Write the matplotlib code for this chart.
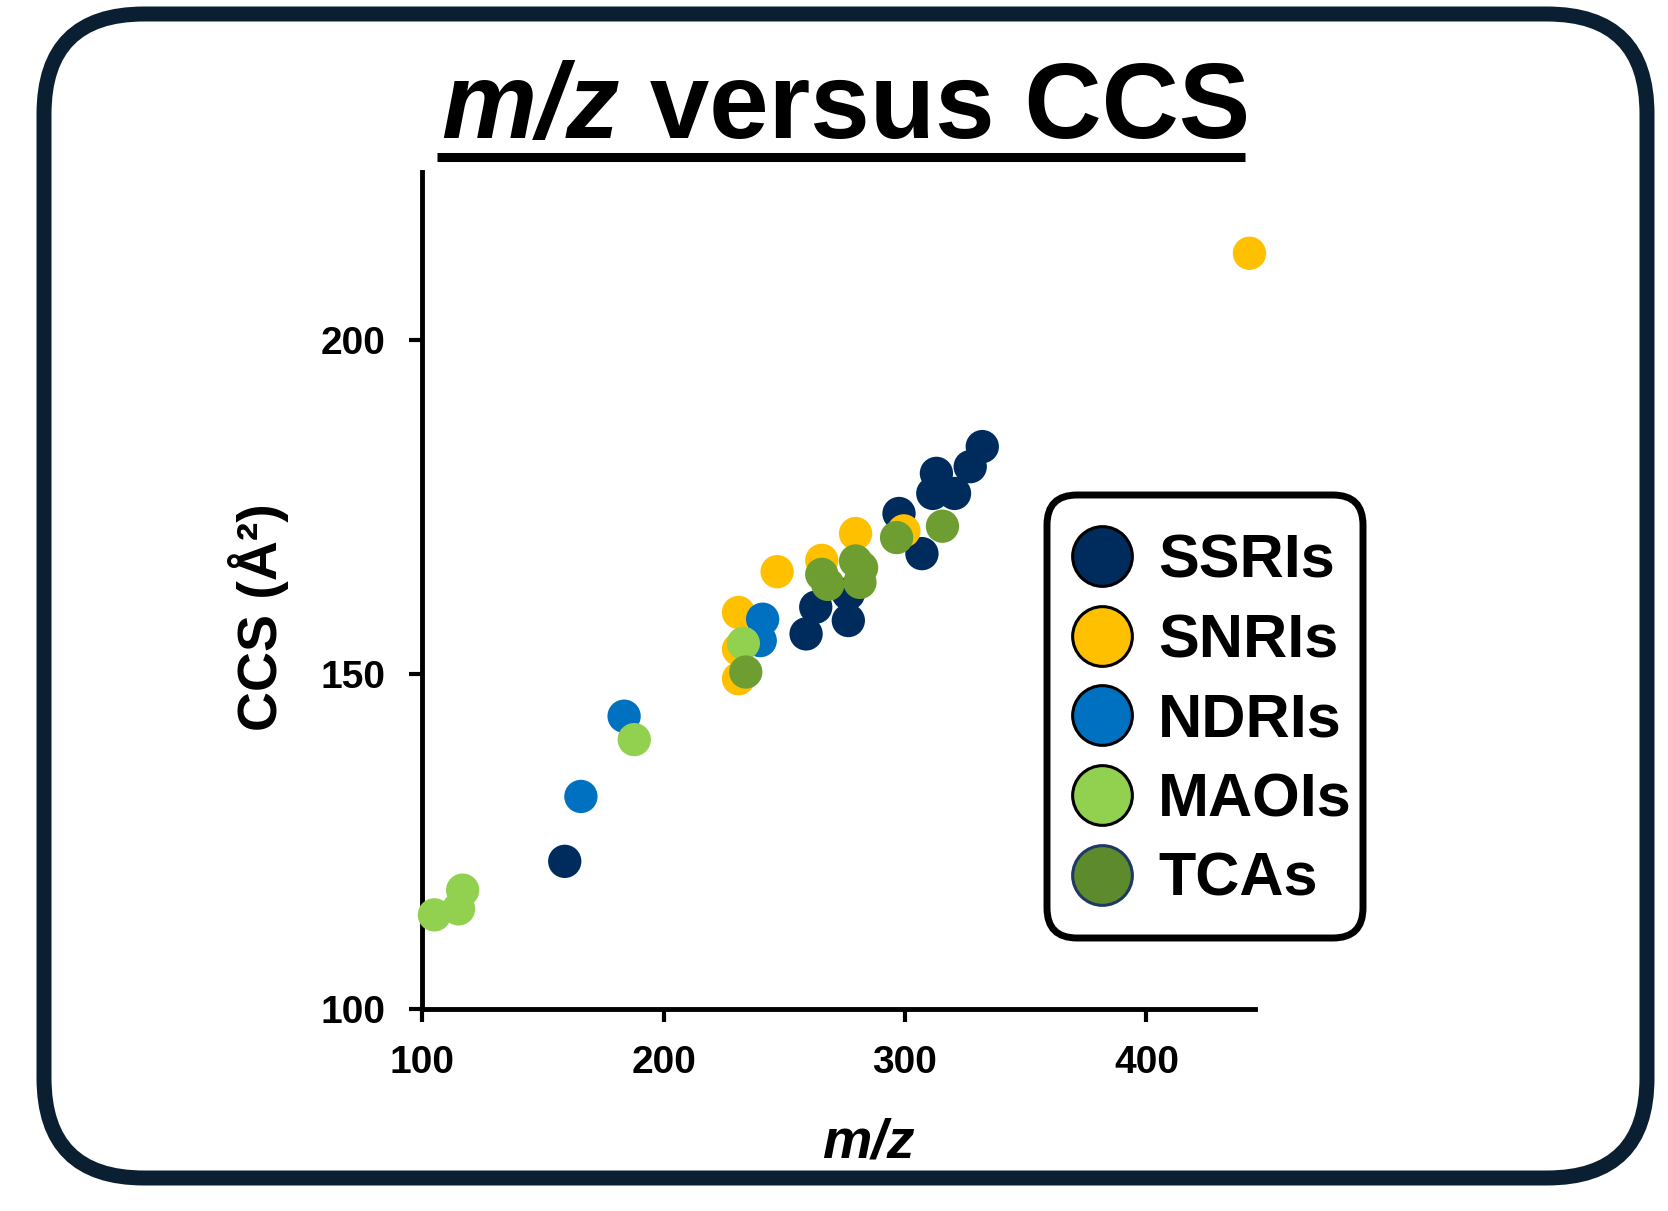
import matplotlib.pyplot as plt
from matplotlib.patches import FancyBboxPatch
from matplotlib.lines import Line2D

plt.rcParams['font.family'] = ['Liberation Sans', 'DejaVu Sans']
plt.rcParams['font.weight'] = 'bold'

# m/z and CCS values per drug class
ssri_mz = [159, 259, 263, 276.5, 276.5, 297.5, 307, 311.5, 313, 320.5, 327, 332]
ssri_ccs = [122, 156, 160, 158, 162, 174, 168, 177, 180, 177, 181, 184]
snri_mz = [231, 231, 231, 247, 265.5, 279.5, 299.5, 442.7]
snri_ccs = [159.2, 153.7, 149.3, 165.3, 167, 171, 171.4, 212.9]
ndri_mz = [165.7, 183.6, 240, 241]
ndri_ccs = [131.7, 143.7, 155, 158.2]
maoi_mz = [105, 115, 116.7, 187.8, 233]
maoi_ccs = [114, 114.9, 117.7, 140.2, 154.6]
tca_mz = [234, 265.5, 268, 279.5, 281.3, 282, 296.5, 315.5]
tca_ccs = [150.3, 164.9, 163.4, 166.9, 163.7, 165.9, 170.4, 172.1]

classes = ['SSRIs', 'SNRIs', 'NDRIs', 'MAOIs', 'TCAs']
colors = ['#002C5D', '#FFC000', '#0070C0', '#92D050', '#6E9E32']
legend_colors = ['#002C5D', '#FFC000', '#0070C0', '#92D050', '#5E8A2E']
legend_edges = ['black', 'black', 'black', 'black', '#1F3864']

fig = plt.figure(figsize=(16.68, 12.11), dpi=100)
ax = fig.add_axes([0.2532, 0.1672, 0.4992, 0.6905])

series = [(ssri_mz, ssri_ccs), (snri_mz, snri_ccs), (ndri_mz, ndri_ccs),
          (maoi_mz, maoi_ccs), (tca_mz, tca_ccs)]
for (x, y), c, name in zip(series, colors, classes):
    ax.scatter(x, y, s=575, color=c, edgecolors='none', label=name,
               zorder=3, clip_on=False)

ax.set_xlim(100, 445)
ax.set_ylim(100, 225)
ax.set_xticks([100, 200, 300, 400])
ax.set_yticks([100, 150, 200])
for side in ['top', 'right']:
    ax.spines[side].set_visible(False)
for side in ['left', 'bottom']:
    ax.spines[side].set_linewidth(3.5)
ax.tick_params(width=3, length=9.5, labelsize=28, pad=17)
for lab in ax.get_xticklabels() + ax.get_yticklabels():
    lab.set_fontweight('bold')

ax.set_xlabel('m/z', fontsize=40, fontweight='bold', fontstyle='italic')
ax.xaxis.set_label_coords(0.536, -0.13)
ax.set_ylabel('CCS (Å²)', fontsize=40, fontweight='bold')
ax.yaxis.set_label_coords(-0.16, 0.468)

# legend (frame drawn separately below)
handles = [Line2D([], [], linestyle='none', marker='o', markersize=43,
                  markerfacecolor=fc, markeredgecolor=ec, markeredgewidth=2.2)
           for fc, ec in zip(legend_colors, legend_edges)]
leg = ax.legend(handles, classes, loc='upper left',
                bbox_to_anchor=(1047 / 1668, 1 - 509 / 1211),
                bbox_transform=fig.transFigure,
                prop={'size': 44, 'weight': 'bold'},
                handlelength=1.0, handletextpad=0.42, borderpad=0.4,
                labelspacing=0.37, borderaxespad=0, frameon=False)
fig.add_artist(FancyBboxPatch((10.47, 2.73), 3.16, 4.43,
                              boxstyle='round,pad=0,rounding_size=0.3',
                              transform=fig.dpi_scale_trans,
                              facecolor='none', edgecolor='black',
                              linewidth=5))

# title
fig.text(620 / 1668, 1 - 138 / 1211, 'm/z', fontsize=77, fontweight='bold',
         fontstyle='italic', ha='right', va='baseline')
fig.text(620 / 1668, 1 - 138 / 1211, ' versus CCS', fontsize=77,
         fontweight='bold', ha='left', va='baseline')
fig.add_artist(Line2D([437 / 1668, 1245 / 1668], [1 - 156.5 / 1211] * 2,
                      color='black', linewidth=6.5, solid_capstyle='butt',
                      transform=fig.transFigure))

# outer rounded frame
fig.add_artist(FancyBboxPatch((0.44, 0.33), 16.03, 11.64,
                              boxstyle='round,pad=0,rounding_size=1.0',
                              transform=fig.dpi_scale_trans,
                              facecolor='none', edgecolor='#0B1F33',
                              linewidth=10.8))

fig.savefig('out.png', dpi=100)
